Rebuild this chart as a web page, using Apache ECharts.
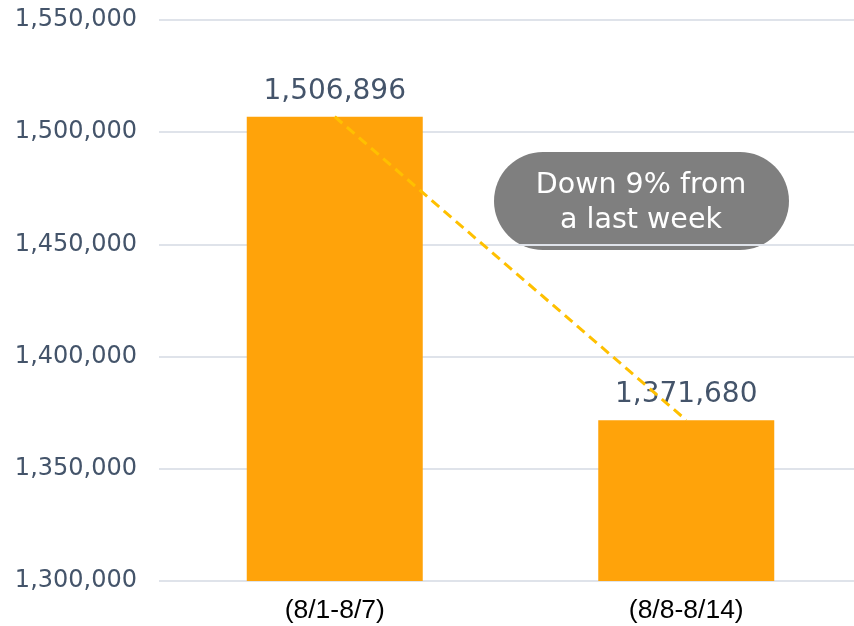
<!DOCTYPE html>
<html><head><meta charset="utf-8">
<script src="https://cdn.jsdelivr.net/npm/echarts@6/dist/echarts.min.js"></script>
<style>html,body{margin:0;padding:0;background:#fff}#c{width:854px;height:626px}</style>
</head><body><div id="c"></div>
<script>
const categories = ['(8/1-8/7)', '(8/8-8/14)'];
const values = [1506896, 1371680];
const yMin = 1300000, yMax = 1550000, yStep = 50000;
const noteLines = ['Down 9% from', 'a last week'];

const chart = echarts.init(document.getElementById('c'));
chart.setOption({
  animation: false,
  grid: {left: 159, width: 703, top: 20, bottom: 45, outerBoundsMode: 'none', containLabel: false},
  xAxis: {
    type: 'category', data: categories,
    axisLine: {show: false}, axisTick: {show: false},
    axisLabel: {color: '#000', fontFamily: 'Liberation Sans', fontSize: 26.5, margin: 16}
  },
  yAxis: {
    type: 'value', min: yMin, max: yMax, interval: yStep,
    axisLine: {show: false}, axisTick: {show: false},
    splitLine: {lineStyle: {color: '#DFE3EA', width: 2}},
    axisLabel: {color: '#44546A', fontFamily: 'DejaVu Sans', fontSize: 24, margin: 22,
      formatter: v => v.toLocaleString('en-US')}
  },
  series: [
    {type: 'bar', data: values, barWidth: 176, itemStyle: {color: '#FFA30A'},
     label: {show: true, position: 'top', distance: 11, color: '#44546A', fontFamily: 'DejaVu Sans', fontSize: 28,
       formatter: p => p.value.toLocaleString('en-US')}},
    {type: 'line', data: values, z: 5, symbol: 'none', silent: true,
     lineStyle: {color: '#FFC000', width: 3, type: [10, 6]}}
  ],
  graphic: [
    {type: 'rect', left: 494, top: 152, shape: {width: 295, height: 98, r: 49}, style: {fill: '#7F7F7F'}},
    {type: 'text', x: 641, y: 203, style: {text: noteLines.join('\n'), fill: '#fff', fontFamily: 'DejaVu Sans', fontSize: 28.5,
      lineHeight: 35, align: 'center', verticalAlign: 'middle'}}
  ]
});
</script></body></html>
